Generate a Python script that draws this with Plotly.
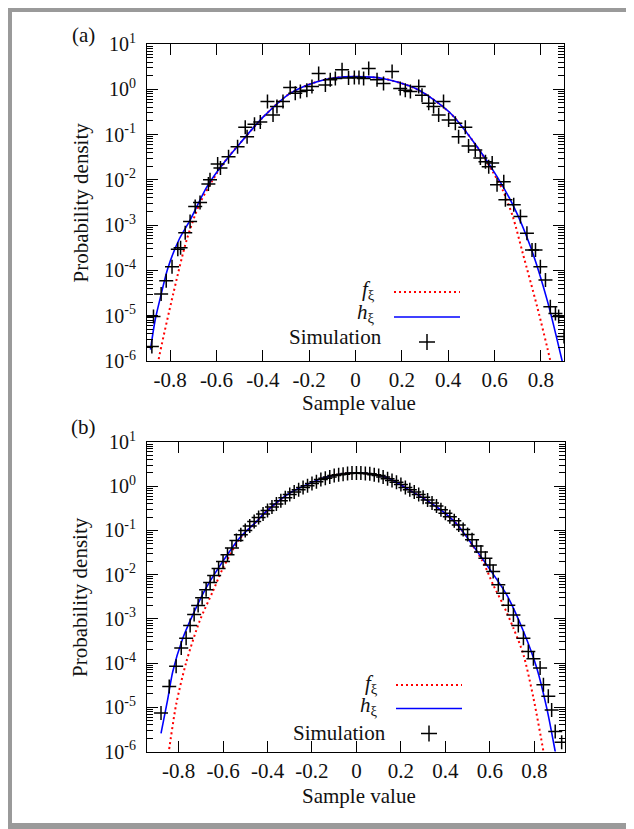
import numpy as np
import plotly.graph_objects as go

# ---------------- data ----------------
# Panel (a): simulation points (x, log10 density)
a_sim_x = [-0.879, -0.872, -0.839, -0.817, -0.792, -0.767, -0.755, -0.735, -0.714, -0.692,
           -0.671, -0.635, -0.628, -0.595, -0.583, -0.548, -0.509, -0.476, -0.468, -0.436,
           -0.411, -0.380, -0.356, -0.339, -0.313, -0.282, -0.260, -0.238, -0.210, -0.188,
           -0.159, -0.130, -0.109, -0.087, -0.058, -0.030, -0.005, 0.015, 0.035, 0.057,
           0.093, 0.121, 0.158, 0.193, 0.215, 0.237, 0.273, 0.287, 0.316, 0.337,
           0.359, 0.380, 0.402, 0.431, 0.445, 0.474, 0.488, 0.517, 0.539, 0.561,
           0.575, 0.590, 0.611, 0.640, 0.647, 0.683, 0.712, 0.740, 0.762, 0.777,
           0.798, 0.820, 0.841, 0.863, 0.877, 0.900]
a_sim_lg = [-5.68, -5.02, -4.52, -4.23, -3.92, -3.53, -3.50, -3.17, -2.92, -2.59,
            -2.50, -2.09, -2.00, -1.65, -1.74, -1.49, -1.27, -0.84, -1.05, -0.77,
            -0.72, -0.27, -0.57, -0.38, -0.27, 0.04, -0.09, -0.05, -0.02, 0.06,
            0.35, 0.095, 0.21, 0.24, 0.43, 0.25, 0.26, 0.26, 0.24, 0.46,
            0.21, 0.13, 0.39, 0.02, -0.02, -0.05, 0.06, -0.13, -0.31, -0.38,
            -0.57, -0.27, -0.68, -0.75, -1.05, -0.84, -1.25, -1.34, -1.52, -1.60,
            -1.71, -1.63, -2.11, -2.04, -2.44, -2.55, -2.81, -3.18, -3.55, -3.55,
            -3.92, -4.21, -4.80, -4.95, -5.02, -5.46]

# Panel (a): h_xi curve
a_h_x = [-0.885, -0.865, -0.84, -0.81, -0.76, -0.714, -0.641, -0.569, -0.498, -0.397,
         -0.282, -0.166, -0.08, 0.0, 0.118, 0.266, 0.41, 0.525, 0.611, 0.683,
         0.755, 0.827, 0.892, 0.905]
a_h_lg = [-5.75, -5.1, -4.55, -3.95, -3.3, -2.89, -2.15, -1.63, -1.19, -0.605,
          -0.089, 0.168, 0.26, 0.28, 0.24, 0.0, -0.53, -1.27, -1.93, -2.59,
          -3.47, -4.65, -6.0, -6.3]

# Panel (a): f_xi curve
a_f_x = [-0.865, -0.851, -0.786, -0.729, -0.672, -0.598, -0.55, -0.498, -0.397, -0.282,
         -0.166, -0.08, 0.0, 0.118, 0.266, 0.41, 0.525, 0.59, 0.635, 0.679,
         0.722, 0.784, 0.841, 0.855]
a_f_lg = [-6.5, -6.0, -4.5, -3.33, -2.52, -1.85, -1.5, -1.19, -0.605, -0.089,
          0.168, 0.26, 0.28, 0.24, 0.0, -0.53, -1.27, -1.8, -2.22, -2.81,
          -3.62, -4.8, -6.0, -6.4]

# Panel (b): simulation points
b_sim_x = [-0.879, -0.842, -0.811, -0.788, -0.766, -0.748, -0.730, -0.712, -0.694, -0.676,
           -0.658, -0.640, -0.620, -0.600, -0.580, -0.560, -0.540, -0.520, -0.500, -0.480,
           -0.460, -0.440, -0.420, -0.400, -0.380, -0.360, -0.340, -0.320, -0.300, -0.280,
           -0.260, -0.240, -0.220, -0.200, -0.180, -0.160, -0.140, -0.120, -0.100, -0.080,
           -0.060, -0.040, -0.020, 0.000, 0.020, 0.040, 0.060, 0.080, 0.100, 0.120,
           0.140, 0.160, 0.180, 0.200, 0.220, 0.240, 0.260, 0.280, 0.300, 0.320,
           0.340, 0.360, 0.380, 0.400, 0.420, 0.440, 0.460, 0.480, 0.500, 0.520,
           0.540, 0.560, 0.580, 0.600, 0.615, 0.638, 0.660, 0.683, 0.706, 0.728,
           0.751, 0.773, 0.796, 0.826, 0.841, 0.863, 0.878, 0.894, 0.923]
b_sim_lg = [-5.13, -4.53, -4.07, -3.66, -3.44, -3.15, -2.90, -2.70, -2.52, -2.34,
            -2.18, -2.02, -1.86, -1.70, -1.55, -1.40, -1.23, -1.10, -1.00, -0.90,
            -0.80, -0.71, -0.63, -0.55, -0.47, -0.40, -0.33, -0.26, -0.19, -0.13,
            -0.08, -0.03, 0.01, 0.06, 0.10, 0.15, 0.18, 0.21, 0.24, 0.26,
            0.27, 0.29, 0.30, 0.30, 0.30, 0.29, 0.28, 0.26, 0.24, 0.21,
            0.17, 0.13, 0.09, 0.04, -0.03, -0.08, -0.13, -0.19, -0.25, -0.31,
            -0.38, -0.45, -0.53, -0.61, -0.69, -0.78, -0.88, -0.98, -1.09, -1.21,
            -1.35, -1.49, -1.63, -1.78, -1.93, -2.23, -2.42, -2.69, -2.91, -3.15,
            -3.44, -3.74, -3.90, -4.11, -4.49, -4.75, -5.06, -5.55, -5.79]

# Panel (b): h_xi curve
b_h_x = [-0.879, -0.85, -0.826, -0.781, -0.736, -0.676, -0.601, -0.526, -0.45, -0.405,
         -0.30, -0.15, -0.075, 0.0, 0.075, 0.15, 0.225, 0.30, 0.375, 0.45,
         0.525, 0.60, 0.676, 0.751, 0.811, 0.856, 0.894, 0.905]
b_h_lg = [-5.59, -4.85, -4.19, -3.44, -2.91, -2.30, -1.70, -1.17, -0.80, -0.57,
          -0.154, 0.185, 0.27, 0.30, 0.27, 0.17, -0.05, -0.27, -0.52, -0.85,
          -1.35, -1.88, -2.46, -3.28, -4.11, -5.02, -6.0, -6.3]

# Panel (b): f_xi curve
b_f_x = [-0.86, -0.844, -0.811, -0.766, -0.706, -0.646, -0.600, -0.526, -0.45, -0.405,
         -0.30, -0.15, -0.075, 0.0, 0.075, 0.15, 0.225, 0.30, 0.375, 0.45,
         0.525, 0.57, 0.615, 0.66, 0.706, 0.751, 0.796, 0.841, 0.86]
b_f_lg = [-6.5, -6.0, -4.94, -3.99, -3.06, -2.38, -1.85, -1.20, -0.80, -0.57,
          -0.154, 0.185, 0.27, 0.30, 0.27, 0.17, -0.05, -0.27, -0.52, -0.85,
          -1.36, -1.72, -2.23, -2.68, -3.21, -3.81, -4.79, -6.0, -6.6]

# tick labels
x_tickvals = [-0.8, -0.6, -0.4, -0.2, 0.0, 0.2, 0.4, 0.6, 0.8]
x_ticktext = ["-0.8", "-0.6", "-0.4", "-0.2", "0", "0.2", "0.4", "0.6", "0.8"]
y_exponents = [-6, -5, -4, -3, -2, -1, 0, 1]
y_ticktext = ["10<sup>%d</sup>" % e for e in y_exponents]
legend_labels = ["<i>f</i><sub>ξ</sub>", "<i>h</i><sub>ξ</sub>", "Simulation"]
panel_labels = ["(a)", "(b)"]
x_title = "Sample value"
y_title = "Probability density"

# ---------------- layout helpers ----------------
# The page body has an 8px margin, so the figure starts at (8, 8) in the window.
OFF = 8
W, H = 634 - OFF, 829 - OFF
FONT = "Liberation Serif, Times New Roman, Times, serif"


def px(x):
    return (x - OFF) / W


def py(y):
    return 1 - (y - OFF) / H


y_tickvals = [10.0 ** e for e in y_exponents]
minor_vals = [m * 10.0 ** e for e in range(-6, 1) for m in range(2, 10)]

fig = go.Figure()

panels = [
    dict(xa="x", ya="y", sx=a_sim_x, sy=a_sim_lg, hx=a_h_x, hy=a_h_lg, fx=a_f_x, fy=a_f_lg),
    dict(xa="x2", ya="y2", sx=b_sim_x, sy=b_sim_lg, hx=b_h_x, hy=b_h_lg, fx=b_f_x, fy=b_f_lg),
]
for i, p in enumerate(panels):
    fig.add_trace(go.Scatter(x=p["fx"], y=10.0 ** np.array(p["fy"]), mode="lines",
                             line=dict(color="#ff0000", width=2, dash="2px,3px", shape="spline", smoothing=0.8),
                             xaxis=p["xa"], yaxis=p["ya"], showlegend=False, name="f_xi"))
    fig.add_trace(go.Scatter(x=p["hx"], y=10.0 ** np.array(p["hy"]), mode="lines",
                             line=dict(color="#0000ff", width=1.6, shape="spline", smoothing=0.8),
                             xaxis=p["xa"], yaxis=p["ya"], showlegend=False, name="h_xi"))
    fig.add_trace(go.Scatter(x=p["sx"], y=10.0 ** np.array(p["sy"]), mode="markers",
                             marker=dict(symbol="cross-thin", size=10,
                                         line=dict(color="black", width=1.5)),
                             xaxis=p["xa"], yaxis=p["ya"], showlegend=False, name="Simulation"))

xcommon = dict(tickvals=x_tickvals, ticktext=x_ticktext, ticks="inside", ticklen=11,
               tickwidth=1, tickcolor="black", showline=True, linecolor="black", linewidth=1,
               mirror="ticks", showgrid=False, zeroline=False,
               tickfont=dict(family=FONT, size=21, color="#111111"), ticklabelstandoff=0)
ycommon = dict(type="log", range=[-6, 1], tickvals=y_tickvals, ticktext=y_ticktext,
               ticks="inside", ticklen=11, tickwidth=1, tickcolor="black", showline=True,
               linecolor="black", linewidth=1, mirror="ticks", showgrid=False, zeroline=False,
               tickfont=dict(family=FONT, size=20, color="#111111"), ticklabelstandoff=6,
               minor=dict(tickmode="array", tickvals=minor_vals, ticks="inside", ticklen=6,
                          tickwidth=1, tickcolor="black", showgrid=False))

fig.update_layout(
    width=W, height=H, margin=dict(l=0, r=0, t=0, b=0, autoexpand=False),
    paper_bgcolor="white", plot_bgcolor="white", showlegend=False,
    font=dict(family=FONT, size=21, color="#111111"),
    xaxis=dict(domain=[px(147), px(564)], anchor="y", range=[-0.9, 0.9], **xcommon),
    yaxis=dict(domain=[py(361), py(44)], anchor="x", **ycommon),
    xaxis2=dict(domain=[px(147), px(565)], anchor="y2", range=[-0.942, 0.938], **xcommon),
    yaxis2=dict(domain=[py(751.5), py(442)], anchor="x2", **ycommon),
)

TF = dict(family=FONT, size=21, color="#111111")
ann = []
shapes = []
# panel labels, axis titles
for lab, yc in zip(panel_labels, [35, 427]):
    ann.append(dict(text=lab, x=px(83), y=py(yc), xref="paper", yref="paper",
                    showarrow=False, xanchor="center", yanchor="middle", font=TF))
for yc in [202.5, 597]:
    ann.append(dict(text=y_title, x=px(80), y=py(yc), xref="paper", yref="paper",
                    showarrow=False, textangle=-90, xanchor="center", yanchor="middle",
                    font=TF))
for yc in [403, 796]:
    ann.append(dict(text=x_title, x=px(359), y=py(yc), xref="paper", yref="paper",
                    showarrow=False, xanchor="center", yanchor="middle", font=TF))

# legends (gnuplot style: label left, sample right)
legend_geo = [
    dict(tx=[377, 377, 384], ty=[290, 313, 337], lx0=394, lx1=460, ly=[292, 317], cx=427, cy=342),
    dict(tx=[380, 380, 388], ty=[684, 706, 733], lx0=396, lx1=462, ly=[685, 708.5], cx=429, cy=733.5),
]
for g in legend_geo:
    for k in range(3):
        ann.append(dict(text=legend_labels[k], x=px(g["tx"][k]), y=py(g["ty"][k]),
                        xref="paper", yref="paper", showarrow=False, xanchor="right",
                        yanchor="middle", font=TF))
    shapes.append(dict(type="line", xref="paper", yref="paper", x0=px(g["lx0"]), x1=px(g["lx1"]),
                       y0=py(g["ly"][0]), y1=py(g["ly"][0]),
                       line=dict(color="#ff0000", width=2, dash="2px,3px")))
    shapes.append(dict(type="line", xref="paper", yref="paper", x0=px(g["lx0"]), x1=px(g["lx1"]),
                       y0=py(g["ly"][1]), y1=py(g["ly"][1]),
                       line=dict(color="#0000ff", width=1.6)))
    shapes.append(dict(type="line", xref="paper", yref="paper", x0=px(g["cx"] - 8), x1=px(g["cx"] + 8),
                       y0=py(g["cy"]), y1=py(g["cy"]), line=dict(color="black", width=1.5)))
    shapes.append(dict(type="line", xref="paper", yref="paper", x0=px(g["cx"]), x1=px(g["cx"]),
                       y0=py(g["cy"] - 8), y1=py(g["cy"] + 8), line=dict(color="black", width=1.5)))

# gray frame around the figure
GRAY = "#9a9a9a"
frame = [(8, 8, 12, 826), (8, 8, 631, 12), (626, 8, 631, 829), (8, 823, 631, 829)]
for (x0, y0, x1, y1) in frame:
    shapes.append(dict(type="rect", xref="paper", yref="paper", x0=px(x0), x1=px(x1),
                       y0=py(y1), y1=py(y0), line=dict(width=0), fillcolor=GRAY, layer="below"))

fig.update_layout(annotations=ann, shapes=shapes)
fig.write_html("out.html")
